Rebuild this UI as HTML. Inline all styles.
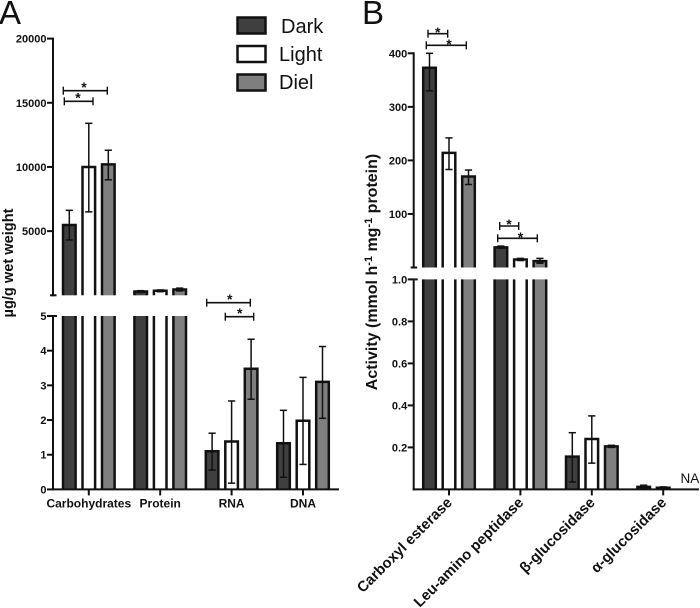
<!DOCTYPE html>
<html>
<head>
<meta charset="utf-8">
<style>
html,body{margin:0;padding:0;background:#fff;width:700px;height:608px;overflow:hidden}
svg{display:block;filter:blur(0.35px)}
text{font-family:"Liberation Sans",sans-serif;fill:#111}
.t{font-weight:bold;font-size:11px}
</style>
</head>
<body>
<svg id="chart" xmlns="http://www.w3.org/2000/svg" width="700" height="608" viewBox="0 0 700 608">
  <text x="-1" y="24" font-size="33">A</text>
  <text x="362" y="24" font-size="33">B</text>
  <text transform="translate(13,263) rotate(-90)" text-anchor="middle" font-size="14.6" font-weight="bold">µg/g wet weight</text>
  <text transform="translate(377,272) rotate(-90)" text-anchor="middle" font-size="16" font-weight="bold">Activity (mmol h<tspan dy="-5" font-size="11">-1</tspan><tspan dy="5"> mg</tspan><tspan dy="-5" font-size="11">-1</tspan><tspan dy="5"> protein)</tspan></text>
  <text x="680.5" y="483" font-size="13.5">NA</text>
  <g>
    <rect x="237.5" y="17.5" width="28" height="16" fill="#3f3f3f" stroke="#111" stroke-width="2.5"/>
    <text x="281" y="33" font-size="20">Dark</text>
    <rect x="237.5" y="46" width="28" height="16" fill="#fff" stroke="#111" stroke-width="2.5"/>
    <text x="279" y="61" font-size="20">Light</text>
    <rect x="237.5" y="74.5" width="28" height="16" fill="#7f7f7f" stroke="#111" stroke-width="2.5"/>
    <text x="279" y="89" font-size="20">Diel</text>
  </g>
</svg>
<script>
// Panel A data
const categoriesA = ["Carbohydrates", "Protein", "RNA", "DNA"];
const darkA  = [5480, 300, 1.1, 1.33];
const darkALow  = [4310, 240, 0.56, 0.35];
const darkAHigh = [6620, 360, 1.62, 2.28];
const lightA = [10000, 350, 1.38, 1.98];
const lightALow  = [6500, 280, 0.18, 0.72];
const lightAHigh = [13400, 420, 2.55, 3.23];
const dielA  = [10200, 450, 3.48, 3.1];
const dielALow  = [9000, 340, 2.6, 2.05];
const dielAHigh = [11300, 560, 4.33, 4.12];
const ticksAUpper = [5000, 10000, 15000, 20000];
const ticksALower = [0, 1, 2, 3, 4, 5];

// Panel B data
const categoriesB = ["Carboxyl esterase", "Leu-amino peptidase", "β-glucosidase", "α-glucosidase"];
const darkB  = [373, 37.5, 0.156, 0.012];
const darkBLow  = [330, 36, 0.035, 0.005];
const darkBHigh = [400, 40, 0.27, 0.02];
const lightB = [214, 15, 0.24, 0.008];
const lightBLow  = [183, 13, 0.125, 0.003];
const lightBHigh = [242, 17, 0.35, 0.012];
const dielB  = [170, 12, 0.205, null];
const dielBLow  = [155, 8, 0.2, null];
const dielBHigh = [182, 17, 0.21, null];
const ticksBUpper = [100, 200, 300, 400];
const ticksBLower = [0.2, 0.4, 0.6, 0.8, 1.0];

const svg = document.getElementById('chart');
const NS = 'http://www.w3.org/2000/svg';
const INK = '#111';
const DARK = '#3f3f3f', LIGHT = '#ffffff', DIEL = '#7f7f7f';

function line(x1, y1, x2, y2, w, name) {
  const el = document.createElementNS(NS, 'line');
  el.setAttribute('x1', x1);
  el.setAttribute('y1', y1);
  el.setAttribute('x2', x2);
  el.setAttribute('y2', y2);
  el.setAttribute('stroke', INK);
  el.setAttribute('stroke-width', w);
  
  
  svg.appendChild(el);
}
function label(x, y, str, anchor, name, cls, transform) {
  const el = document.createElementNS(NS, 'text');
  el.setAttribute('x', x);
  el.setAttribute('y', y);
  el.setAttribute('text-anchor', anchor);
  if (cls) el.setAttribute('class', cls);
  if (transform) el.setAttribute('transform', transform);
  el.textContent = str;
  
  
  svg.appendChild(el);
  return el;
}
function barPath(x, w, yTop, yBottom, fill, name, openTop) {
  // open-bottom bar body so the axis break stays clean
  const r = document.createElementNS(NS, 'rect');
  r.setAttribute('x', x);
  r.setAttribute('y', yTop);
  r.setAttribute('width', w);
  r.setAttribute('height', Math.max(0, yBottom - yTop));
  r.setAttribute('fill', fill);
  
  
  svg.appendChild(r);
  const p = document.createElementNS(NS, 'path');
  const d = openTop
    ? 'M' + x + ' ' + yBottom + 'V' + yTop + 'M' + (x + w) + ' ' + yTop + 'V' + yBottom
    : 'M' + x + ' ' + yBottom + 'V' + yTop + 'H' + (x + w) + 'V' + yBottom;
  p.setAttribute('d', d);
  p.setAttribute('fill', 'none');
  p.setAttribute('stroke', INK);
  p.setAttribute('stroke-width', 2.5);
  
  
  svg.appendChild(p);
}
function bracket(x1, x2, y, starX, starY) {
  line(x1, y, x2, y, 1.6, 'significance-bracket');
  line(x1, y - 4, x1, y + 4, 1.4, 'significance-bracket-cap');
  line(x2, y - 4, x2, y + 4, 1.4, 'significance-bracket-cap');
  const el = label(starX, starY, '*', 'middle', 'significance-star', 't');
  el.setAttribute('style', 'font-size:14px');
}

function makePanel(cfg) {
  const { upper, lower } = cfg;
  const yUpper = v => upper.y0 - (v - upper.min) * (upper.y0 - upper.y1) / (upper.max - upper.min);
  const yLower = v => lower.y0 - (v - lower.min) * (lower.y0 - lower.y1) / (lower.max - lower.min);
  const xCenter = i => cfg.x0 + i * cfg.step;
  const y = v => (v > lower.max ? yUpper(v) : yLower(v));
  const seriesList = cfg.series;

  seriesList.forEach((s, si) => {
    s.values.forEach((v, i) => {
      if (v === null) return;
      const left = xCenter(i) + (si - 1) * cfg.offset - cfg.barW / 2;
      if (v > lower.max) {
        barPath(left, cfg.barW, yUpper(v), upper.y0, s.fill, 'bar-' + s.name + '-upper-' + i, false);
        barPath(left, cfg.barW, lower.y1, lower.y0, s.fill, 'bar-' + s.name + '-lower-' + i, true);
      } else {
        barPath(left, cfg.barW, yLower(v), lower.y0, s.fill, 'bar-' + s.name + '-' + i, false);
      }
      const cx = left + cfg.barW / 2;
      const yl = y(s.low[i]), yh = y(s.high[i]);
      line(cx, yl, cx, yh, 1.5, 'error-bar-' + s.name);
      line(cx - 3.6, yl, cx + 3.6, yl, 1.5, 'error-cap-low-' + s.name);
      line(cx - 3.6, yh, cx + 3.6, yh, 1.5, 'error-cap-high-' + s.name);
    });
  });

  // y axis, upper and lower segments
  line(cfg.axisX, upper.y1 - 1, cfg.axisX, upper.y0 + 1, 2, 'y-axis-upper');
  line(cfg.axisX - 3, upper.y0, cfg.axisX + 3.5, upper.y0, 2, 'y-axis-break-cap');
  line(cfg.axisX, lower.y1 - 1, cfg.axisX, lower.y0 + 1, 2, 'y-axis-lower');
  line(cfg.axisX + 1, lower.y1, cfg.axisX + 4, lower.y1, 2, 'y-axis-break-cap');
  cfg.ticksUpper.forEach(t => {
    line(cfg.axisX - 6, yUpper(t), cfg.axisX, yUpper(t), 2, 'y-tick');
    label(cfg.axisX - 6.5, yUpper(t) + 4, String(t), 'end', 'y-tick-label', 't');
  });
  cfg.ticksLower.forEach(t => {
    line(cfg.axisX - 6, yLower(t), cfg.axisX, yLower(t), 2, 'y-tick');
    label(cfg.axisX - 6.5, yLower(t) + 4, cfg.fmt(t), 'end', 'y-tick-label', 't');
  });

  // x axis
  line(cfg.axisX - 1, lower.y0, cfg.axisEnd, lower.y0, 2, 'x-axis');
  cfg.categories.forEach((c, i) => {
    line(xCenter(i), lower.y0, xCenter(i), lower.y0 + 6, 2, 'x-tick');
    cfg.drawCategory(c, xCenter(i), lower.y0);
  });
}

makePanel({
  axisX: 53, axisEnd: 339, x0: 88.8, step: 71.4, offset: 19.5, barW: 12.6,
  upper: { min: 0, max: 20000, y0: 295.3, y1: 38.6 },
  lower: { min: 0, max: 5, y0: 489.4, y1: 316 },
  categories: categoriesA,
  ticksUpper: ticksAUpper, ticksLower: ticksALower,
  fmt: t => String(t),
  series: [
    { name: 'dark', fill: DARK, values: darkA, low: darkALow, high: darkAHigh },
    { name: 'light', fill: LIGHT, values: lightA, low: lightALow, high: lightAHigh },
    { name: 'diel', fill: DIEL, values: dielA, low: dielALow, high: dielAHigh }
  ],
  drawCategory: (c, x, y0) => {
    const el = label(x, y0 + 18, c, 'middle', 'x-category-label', 't');
    el.setAttribute('style', 'font-size:12px');
  }
});

makePanel({
  axisX: 413.7, axisEnd: 699, x0: 449, step: 71.4, offset: 19.5, barW: 12.6,
  upper: { min: 0, max: 400, y0: 267.5, y1: 53.3 },
  lower: { min: 0, max: 1, y0: 489.4, y1: 279.4 },
  categories: categoriesB,
  ticksUpper: ticksBUpper, ticksLower: ticksBLower,
  fmt: t => t.toFixed(1),
  series: [
    { name: 'dark', fill: DARK, values: darkB, low: darkBLow, high: darkBHigh },
    { name: 'light', fill: LIGHT, values: lightB, low: lightBLow, high: lightBHigh },
    { name: 'diel', fill: DIEL, values: dielB, low: dielBLow, high: dielBHigh }
  ],
  drawCategory: (c, x, y0) => {
    const ax = x + 4, ay = y0 + 14;
    const el = label(ax, ay, c, 'end', 'x-category-label', 't', 'rotate(-45 ' + ax + ' ' + ay + ')');
    el.setAttribute('style', 'font-size:14.8px');
  }
});

// Significance annotations
bracket(63.3, 107.3, 90.7, 84, 92);
bracket(64.3, 93, 101.3, 78, 102.5);
bracket(206.7, 250.3, 302.7, 229.7, 304);
bracket(225.3, 253.7, 316.7, 239.7, 318);
bracket(428, 447.7, 33.7, 437.7, 37);
bracket(426.3, 466.3, 45.3, 449, 49);
bracket(499.7, 518.7, 226, 509, 229);
bracket(497.7, 537.3, 238.3, 520.5, 242);
</script>
</body>
</html>
